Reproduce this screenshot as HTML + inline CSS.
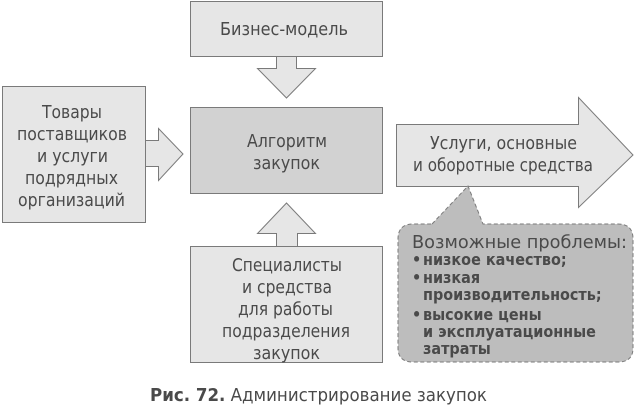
<!DOCTYPE html>
<html><head><meta charset="utf-8"><style>
body{margin:0;background:#fff}
svg text{font-family:"DejaVu Sans Condensed","Liberation Sans",sans-serif;fill:#4a4a4a}
</style></head><body>
<svg width="635" height="406" viewBox="0 0 635 406" xmlns="http://www.w3.org/2000/svg">
<g stroke="#7a7a7a" stroke-width="1" fill="#e6e6e6">
<rect x="190.5" y="1.5" width="192" height="55"/>
<polygon points="276.5,56.5 296.5,56.5 296.5,68.5 315.5,68.5 286.5,98 257.5,68.5 276.5,68.5"/>
<rect x="2.5" y="86.5" width="143" height="136"/>
<polygon points="145.5,140.5 158.5,140.5 158.5,128.5 183,154 158.5,180.5 158.5,166.5 145.5,166.5"/>
<rect x="190.5" y="107.5" width="192" height="86" fill="#d2d2d2"/>
<polygon points="286.5,203 315.5,233.5 297.5,233.5 297.5,246.5 276.5,246.5 276.5,233.5 257.5,233.5"/>
<rect x="190.5" y="246.5" width="192" height="116"/>
<polygon points="396.5,124.5 578.5,124.5 578.5,97.5 633,155 578.5,207.5 578.5,186.5 396.5,186.5"/>
<path d="M432,224 L468,186 L483,224 L618,224 Q633,224 633,239 L633,348 Q633,362 618,362 L413,362 Q398,362 398,348 L398,239 Q398,224 413,224 Z" fill="#bdbdbd" stroke-dasharray="4,2.5"/>
</g>
<g font-size="17.5">
<text x="220" y="35" textLength="128" lengthAdjust="spacingAndGlyphs">Бизнес-модель</text>
<text x="42" y="118" textLength="60" lengthAdjust="spacingAndGlyphs">Товары</text>
<text x="17" y="140" textLength="110" lengthAdjust="spacingAndGlyphs">поставщиков</text>
<text x="37" y="162" textLength="71" lengthAdjust="spacingAndGlyphs">и услуги</text>
<text x="25" y="184" textLength="93" lengthAdjust="spacingAndGlyphs">подрядных</text>
<text x="18" y="206" textLength="107" lengthAdjust="spacingAndGlyphs">организаций</text>
<text x="247" y="147" textLength="80" lengthAdjust="spacingAndGlyphs">Алгоритм</text>
<text x="253" y="169" textLength="67" lengthAdjust="spacingAndGlyphs">закупок</text>
<text x="232" y="271" textLength="110" lengthAdjust="spacingAndGlyphs">Специалисты</text>
<text x="242" y="293" textLength="90" lengthAdjust="spacingAndGlyphs">и средства</text>
<text x="238" y="315" textLength="95" lengthAdjust="spacingAndGlyphs">для работы</text>
<text x="222" y="337" textLength="128" lengthAdjust="spacingAndGlyphs">подразделения</text>
<text x="253" y="359" textLength="67" lengthAdjust="spacingAndGlyphs">закупок</text>
<text x="430" y="149" textLength="147" lengthAdjust="spacingAndGlyphs">Услуги, основные</text>
<text x="413" y="171" textLength="180" lengthAdjust="spacingAndGlyphs">и оборотные средства</text>
</g>
<g font-size="16">
<text x="412" y="248" font-size="17.5" textLength="215" lengthAdjust="spacingAndGlyphs">Возможные проблемы:</text>
<g font-weight="bold">
<text x="412" y="265">•</text><text x="423" y="265">низкое качество;</text>
<text x="412" y="283">•</text><text x="423" y="283">низкая</text>
<text x="423" y="300">производительность;</text>
<text x="412" y="320">•</text><text x="423" y="320">высокие цены</text>
<text x="423" y="337">и эксплуатационные</text>
<text x="423" y="354">затраты</text>
</g>
</g>
<text x="150" y="401" font-size="18" textLength="337" lengthAdjust="spacingAndGlyphs"><tspan font-weight="bold">Рис. 72.</tspan> Администрирование закупок</text>
</svg>
</body></html>
